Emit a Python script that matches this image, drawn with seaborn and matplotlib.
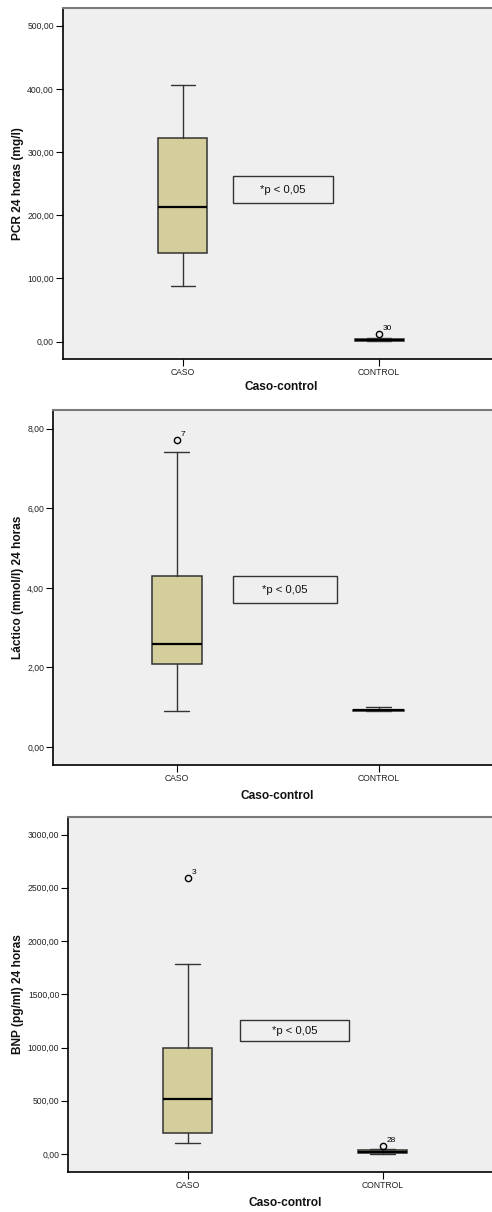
import matplotlib
matplotlib.use("Agg")
import matplotlib.pyplot as plt
import seaborn as sns
from matplotlib.patches import Rectangle

# Groups on the x axis
groups = ["CASO", "CONTROL"]

# PCR 24 horas (mg/l): box-plot summaries per group
pcr_med = [213.0, 3.0]
pcr_q1 = [140.0, 1.0]
pcr_q3 = [322.0, 5.0]
pcr_lo = [88.0, 0.5]
pcr_hi = [406.0, 6.5]
pcr_out = [[], [12.7]]
pcr_out_id = [[], ["30"]]
pcr_ticks = [0, 100, 200, 300, 400, 500]

# Láctico (mmol/l) 24 horas
lac_med = [2.59, 0.92]
lac_q1 = [2.09, 0.90]
lac_q3 = [4.30, 0.94]
lac_lo = [0.90, 0.90]
lac_hi = [7.41, 1.00]
lac_out = [[7.72], []]
lac_out_id = [["7"], []]
lac_ticks = [0, 2, 4, 6, 8]

# BNP (pg/ml) 24 horas
bnp_med = [516.0, 20.0]
bnp_q1 = [197.0, 8.0]
bnp_q3 = [997.0, 34.0]
bnp_lo = [106.0, 3.0]
bnp_hi = [1784.0, 45.0]
bnp_out = [[2590.0], [71.0]]
bnp_out_id = [["3"], ["28"]]
bnp_ticks = [0, 500, 1000, 1500, 2000, 2500, 3000]

p_text = "*p < 0,05"

sns.set_theme(style="ticks")
plt.rcParams["font.family"] = ["Liberation Sans", "DejaVu Sans"]

BG = "#EFEFEF"
BOX = "#D3CE9B"
EDGE = "#333333"

W, H = 492, 1212
fig = plt.figure(figsize=(W / 100, H / 100), dpi=100)
fig.patch.set_facecolor("white")


def px_axes(left, top, right, bottom):
    return fig.add_axes([left / W, 1 - bottom / H, (right - left) / W, (bottom - top) / H])


def fmt(v):
    return f"{v:.2f}".replace(".", ",")


def panel(ax, med, q1, q3, lo, hi, out, out_id, ticks, ylim, ylabel,
          ylab_x, xlab_y, pbox):
    stats = []
    for i in range(len(groups)):
        stats.append(dict(med=med[i], q1=q1[i], q3=q3[i], whislo=lo[i],
                          whishi=hi[i], fliers=out[i], label=groups[i]))
    ax.set_facecolor(BG)
    ax.bxp(stats, positions=[0, 1], widths=0.25, patch_artist=True,
           showfliers=True,
           boxprops=dict(facecolor=BOX, edgecolor=EDGE, linewidth=1.1),
           medianprops=dict(color="black", linewidth=1.6),
           whiskerprops=dict(color=EDGE, linewidth=1.0),
           capprops=dict(color=EDGE, linewidth=1.0),
           flierprops=dict(marker="o", markerfacecolor="none",
                           markeredgecolor="black", markersize=4.5,
                           markeredgewidth=1.0))
    for i in range(len(groups)):
        for v, lab in zip(out[i], out_id[i]):
            ax.annotate(lab, (i, v), xytext=(4, 2), textcoords="offset pixels",
                        ha="left", va="bottom", fontsize=6, color="black")
    ax.set_xlim(-0.612, 1.612)
    ax.set_ylim(*ylim)
    ax.set_yticks(ticks)
    ax.set_yticklabels([fmt(t) for t in ticks])
    ax.set_xticks([0, 1])
    ax.set_xticklabels(groups)
    ax.tick_params(axis="both", direction="out", length=5, width=0.8,
                   color="black", labelsize=6.2, pad=1.5, labelcolor="#222222")
    ax.set_ylabel(ylabel, fontsize=8.6, fontweight="bold", color="#111111")
    ax.yaxis.label.set_va("center")
    ax.yaxis.set_label_coords(ylab_x, 0.5)
    ax.set_xlabel("Caso-control", fontsize=8.6, fontweight="bold", color="#111111")
    ax.xaxis.label.set_va("center")
    ax.xaxis.set_label_coords(0.5, xlab_y)
    for s in ("left", "bottom"):
        ax.spines[s].set_color("black")
        ax.spines[s].set_linewidth(1.2)
    ax.spines["top"].set_color("#7a7a7a")
    ax.spines["top"].set_linewidth(1.5)
    ax.spines["right"].set_visible(False)
    ax.grid(False)
    bx, by, bw, bh = pbox
    ax.add_patch(Rectangle((bx, by), bw, bh, transform=ax.transAxes,
                           facecolor=BG, edgecolor="#333333", linewidth=1.0,
                           zorder=3))
    ax.text(bx + bw / 2, by + bh / 2, p_text, transform=ax.transAxes,
            ha="center", va="center", fontsize=8.2, color="#111111", zorder=4)


ax1 = px_axes(63, 8, 499, 359)
panel(ax1, pcr_med, pcr_q1, pcr_q3, pcr_lo, pcr_hi, pcr_out, pcr_out_id,
      pcr_ticks, (-27.4, 528), "PCR 24 horas (mg/l)", -0.103, -0.080,
      (0.390, 0.444, 0.229, 0.077))

ax2 = px_axes(53.3, 410, 502, 765)
panel(ax2, lac_med, lac_q1, lac_q3, lac_lo, lac_hi, lac_out, lac_out_id,
      lac_ticks, (-0.45, 8.47), "Láctico (mmol/l) 24 horas", -0.078, -0.087,
      (0.400, 0.456, 0.232, 0.076))

ax3 = px_axes(68.3, 817, 502, 1172)
panel(ax3, bnp_med, bnp_q1, bnp_q3, bnp_lo, bnp_hi, bnp_out, bnp_out_id,
      bnp_ticks, (-169, 3165), "BNP (pg/ml) 24 horas", -0.115, -0.086,
      (0.396, 0.369, 0.252, 0.059))

fig.savefig("out.png", dpi=100, facecolor="white")
